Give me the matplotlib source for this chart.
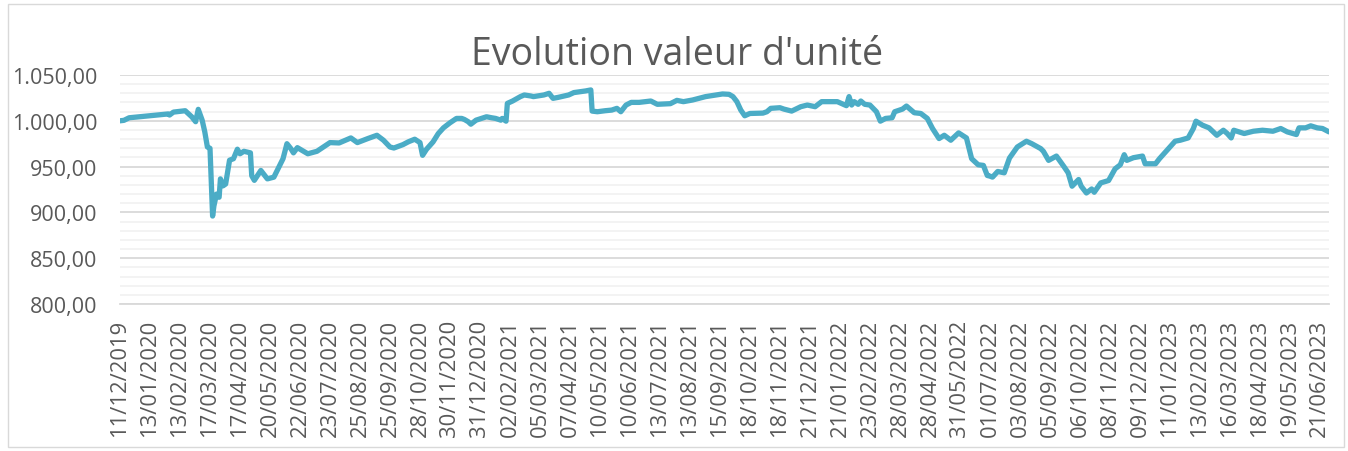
import numpy as np
import matplotlib
matplotlib.use("Agg")
import matplotlib.pyplot as plt
from matplotlib.patches import Rectangle
from matplotlib.ticker import MultipleLocator, FuncFormatter

title = "Evolution valeur d'unité"

dates = [
    "2019-12-11", "2019-12-16", "2019-12-20", "2020-01-31", "2020-02-03", "2020-02-06",
    "2020-02-19", "2020-02-26", "2020-03-02", "2020-03-04", "2020-03-09", "2020-03-11",
    "2020-03-13", "2020-03-17", "2020-03-19", "2020-03-20", "2020-03-24", "2020-03-26",
    "2020-03-27", "2020-03-31", "2020-04-02", "2020-04-07", "2020-04-10", "2020-04-15",
    "2020-04-17", "2020-04-22", "2020-04-29", "2020-04-30", "2020-05-04", "2020-05-11",
    "2020-05-18", "2020-05-25", "2020-06-01", "2020-06-03", "2020-06-08", "2020-06-11",
    "2020-06-15", "2020-06-18", "2020-06-30", "2020-07-09", "2020-07-23", "2020-08-03",
    "2020-08-14", "2020-08-21", "2020-09-02", "2020-09-11", "2020-09-18", "2020-09-25",
    "2020-09-30", "2020-10-09", "2020-10-15", "2020-10-22", "2020-10-28", "2020-10-30",
    "2020-11-04", "2020-11-11", "2020-11-17", "2020-11-23", "2020-11-30", "2020-12-07",
    "2020-12-11", "2020-12-15", "2020-12-18", "2020-12-22", "2020-12-28", "2021-01-07",
    "2021-01-13", "2021-01-18", "2021-01-22", "2021-01-25", "2021-01-28", "2021-01-29",
    "2021-02-04", "2021-02-12", "2021-02-17", "2021-02-24", "2021-02-26", "2021-03-10",
    "2021-03-16", "2021-03-19", "2021-03-25", "2021-04-06", "2021-04-12", "2021-04-23",
    "2021-04-29", "2021-04-30", "2021-05-06", "2021-05-14", "2021-05-21", "2021-05-27",
    "2021-06-01", "2021-06-07", "2021-06-11", "2021-06-21", "2021-07-02", "2021-07-09",
    "2021-07-23", "2021-07-30", "2021-08-06", "2021-08-17", "2021-08-31", "2021-09-17",
    "2021-09-24", "2021-09-29", "2021-10-04", "2021-10-07", "2021-10-12", "2021-10-18",
    "2021-11-01", "2021-11-04", "2021-11-09", "2021-11-18", "2021-11-23", "2021-12-01",
    "2021-12-10", "2021-12-17", "2021-12-27", "2022-01-03", "2022-01-19", "2022-01-28",
    "2022-02-01", "2022-02-03", "2022-02-07", "2022-02-10", "2022-02-14", "2022-02-17",
    "2022-02-23", "2022-03-02", "2022-03-07", "2022-03-11", "2022-03-18", "2022-03-22",
    "2022-03-30", "2022-04-04", "2022-04-12", "2022-04-19", "2022-04-26", "2022-05-02",
    "2022-05-09", "2022-05-13", "2022-05-20", "2022-05-30", "2022-06-07", "2022-06-13",
    "2022-06-20", "2022-06-24", "2022-06-29", "2022-07-01", "2022-07-05", "2022-07-11",
    "2022-07-18", "2022-07-22", "2022-08-01", "2022-08-10", "2022-08-16", "2022-08-25",
    "2022-08-29", "2022-09-02", "2022-09-12", "2022-09-20", "2022-09-23", "2022-09-28",
    "2022-10-05", "2022-10-07", "2022-10-13", "2022-10-19", "2022-10-21", "2022-10-28",
    "2022-11-07", "2022-11-14", "2022-11-18", "2022-11-23", "2022-11-25", "2022-12-02",
    "2022-12-13", "2022-12-15", "2022-12-27", "2022-12-30", "2023-01-05", "2023-01-17",
    "2023-01-23", "2023-01-31", "2023-02-06", "2023-02-08", "2023-02-15", "2023-02-22",
    "2023-03-02", "2023-03-09", "2023-03-14", "2023-03-17", "2023-03-21", "2023-03-31",
    "2023-04-11", "2023-04-20", "2023-05-02", "2023-05-10", "2023-05-17", "2023-05-26",
    "2023-05-30", "2023-06-06", "2023-06-12", "2023-06-19", "2023-06-23", "2023-06-30",
]

values = [
    1000.0, 1000.5, 1003.3, 1007.5, 1006.3, 1009.5,
    1011.0, 1004.4, 999.0, 1012.5, 1000.7, 988.0,
    971.4, 970.0, 896.0, 907.0, 920.0, 916.5,
    936.6, 929.0, 931.0, 957.0, 958.6, 969.0,
    964.0, 966.7, 965.0, 940.0, 935.0, 945.8,
    936.6, 938.5, 953.0, 958.6, 975.0, 969.6,
    965.0, 970.7, 964.0, 966.7, 976.2, 975.8,
    981.3, 976.2, 980.6, 984.2, 978.8, 971.4,
    970.3, 974.0, 977.0, 979.9, 976.2, 962.3,
    968.9, 976.9, 986.0, 992.3, 997.8, 1002.6,
    1002.6, 1001.5, 999.0, 996.3, 1000.7, 1004.4,
    1003.3, 1002.6, 1000.7, 1002.6, 999.6, 1019.0,
    1021.6, 1026.4, 1028.2, 1027.1, 1026.4, 1028.2,
    1030.0, 1024.5, 1025.6, 1028.2, 1030.8, 1032.6,
    1033.7, 1010.6, 1009.9, 1011.0, 1011.7, 1013.6,
    1009.9, 1017.2, 1020.1, 1020.1, 1021.6, 1018.0,
    1018.7, 1022.3, 1020.9, 1022.7, 1026.4, 1029.3,
    1028.9, 1026.4, 1020.9, 1011.7, 1005.5, 1008.0,
    1008.4, 1009.9, 1013.6, 1014.3, 1012.8, 1010.6,
    1015.4, 1017.2, 1015.4, 1020.9, 1020.9, 1016.5,
    1026.4, 1017.2, 1020.9, 1018.0, 1021.6, 1018.0,
    1017.2, 1009.9, 999.6, 1002.6, 1003.3, 1009.9,
    1012.8, 1016.1, 1008.8, 1008.0, 1002.6, 991.6,
    980.6, 984.2, 978.8, 986.8, 981.3, 958.6,
    952.0, 951.3, 940.3, 939.6, 938.5, 944.7,
    943.2, 959.3, 971.4, 977.7, 975.1, 969.6,
    966.7, 956.8, 961.5, 949.5, 943.2, 928.6,
    935.9, 928.6, 921.2, 925.6, 922.0, 932.2,
    934.8, 947.6, 952.0, 963.0, 956.8, 959.7,
    961.5, 953.1, 953.1, 958.6, 965.0, 977.7,
    978.8, 981.3, 991.6, 999.6, 995.2, 992.3,
    984.2, 989.7, 986.1, 981.3, 989.7, 986.1,
    988.6, 989.7, 988.6, 991.6, 987.9, 985.0,
    992.3, 992.3, 994.5, 992.3, 991.6, 987.9,
]

tick_dates = [
    "2019-12-11", "2020-01-13", "2020-02-13", "2020-03-17", "2020-04-17", "2020-05-20",
    "2020-06-22", "2020-07-23", "2020-08-25", "2020-09-25", "2020-10-28", "2020-11-30",
    "2020-12-31", "2021-02-02", "2021-03-05", "2021-04-07", "2021-05-10", "2021-06-10",
    "2021-07-13", "2021-08-13", "2021-09-15", "2021-10-18", "2021-11-18", "2021-12-21",
    "2022-01-21", "2022-02-23", "2022-03-28", "2022-04-28", "2022-05-31", "2022-07-01",
    "2022-08-03", "2022-09-05", "2022-10-06", "2022-11-08", "2022-12-09", "2023-01-11",
    "2023-02-13", "2023-03-16", "2023-04-18", "2023-05-19", "2023-06-21",
]

LINE = "#4BACC6"
TEXT = "#595959"
FONT = ["Open Sans", "DejaVu Sans"]
plt.rcParams["font.family"] = FONT

start = np.datetime64(dates[0])
x = np.busday_count(start, np.array(dates, dtype="datetime64[D]"))
tx = np.busday_count(start, np.array(tick_dates, dtype="datetime64[D]"))
tick_labels = [f"{d[8:10]}/{d[5:7]}/{d[0:4]}" for d in tick_dates]

W, H = 1348, 452
fig = plt.figure(figsize=(W / 100, H / 100), dpi=100)
fig.patch.set_facecolor("white")

left, right, top, bottom = 120, 1329, 76, 305
ax = fig.add_axes([left / W, 1 - bottom / H, (right - left) / W, (bottom - top) / H])

ax.plot(x, values, color=LINE, lw=3.8, solid_joinstyle="round", solid_capstyle="round", zorder=3)

ax.set_ylim(800, 1050)
ax.set_xlim(0, x[-1])
ax.yaxis.set_major_locator(MultipleLocator(50))
ax.yaxis.set_minor_locator(MultipleLocator(10))
ax.yaxis.set_major_formatter(FuncFormatter(
    lambda v, p: f"{v:,.2f}".replace(",", "X").replace(".", ",").replace("X", ".")))
ax.grid(which="major", axis="y", color="#D9D9D9", lw=1.3, zorder=1)
ax.grid(which="minor", axis="y", color="#F2F2F2", lw=1.3, zorder=0)
ax.set_xticks(tx)
ax.set_xticklabels(tick_labels, rotation=90, fontsize=15.8, color=TEXT)
ax.tick_params(axis="y", which="both", length=0, labelsize=15.5, labelcolor=TEXT, pad=16.5)
ax.tick_params(axis="x", length=0, pad=10.5)
for s in ["top", "right", "left"]:
    ax.spines[s].set_visible(False)
ax.spines["bottom"].set_color("#D9D9D9")
ax.spines["bottom"].set_linewidth(1.3)

fig.text(677 / W, 1 - 55 / H, title, ha="center", va="center", fontsize=27, color=TEXT)

fig.patches.append(Rectangle((8 / W, 1 - 448 / H), (1344 - 8) / W, (448 - 5) / H,
                             transform=fig.transFigure, fill=False, edgecolor="#D9D9D9", lw=1.0))

fig.savefig("out.png", dpi=100)
